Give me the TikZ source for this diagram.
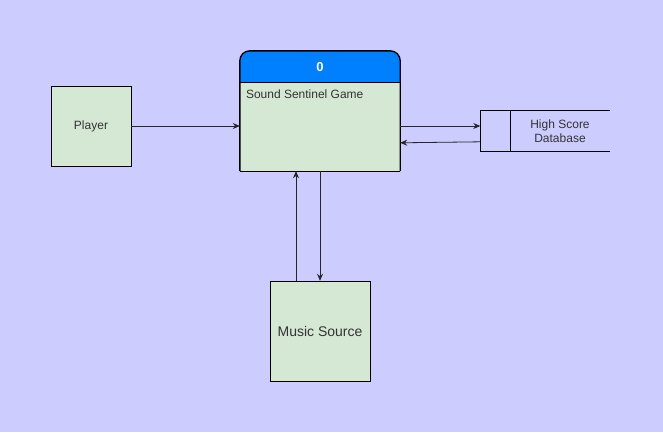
\documentclass[tikz,border=0pt]{standalone}
\usepackage{fontspec}
\setmainfont{Liberation Sans}
\usetikzlibrary{arrows.meta,positioning,calc}
\definecolor{lavender bg}{HTML}{CCCCFF}
\definecolor{entity green}{HTML}{D5E8D4}
\definecolor{header blue}{HTML}{007FFF}
\definecolor{label gray}{HTML}{333333}
\tikzset{
    % Colors
    line color/.style={black!85},
    %
    % Nodes
    entity/.style={draw,fill=entity green,minimum width=80,minimum height=80,inner sep=0pt,text=label gray,font=\fontsize{12}{14}\selectfont},
    process area/.style={minimum width=160,minimum height=120,inner sep=0pt},
    store text/.style={minimum width=99,minimum height=40,inner sep=0pt,align=center,text=label gray,font=\fontsize{12}{14}\selectfont},
    %
    % Arrows
    arrow tip/.tip={Stealth[length=7pt,width=6pt]},
    arr/.style={->,>={arrow tip},line color,line width=0.8pt},
}

\begin{document}
\begin{tikzpicture}[x=1pt,y=-1pt]
    \fill[lavender bg] (0,0) rectangle (663,432);
    \useasboundingbox (0,0) rectangle (663,432);

    \node[entity] (player) at (91,126) {Player};
    \node[entity,minimum width=100,minimum height=100,font=\fontsize{14}{16}\selectfont] (musicsrc) at (320,331) {Music Source};

    % process 0
    \node[process area] (game) at (320,111) {};
    \coordinate (hdrL) at ($(game.north west)+(0,31)$);
    \coordinate (hdrR) at ($(game.north east)+(0,31)$);
    \fill[header blue,rounded corners=10] (game.north west) rectangle ($(hdrR)+(0,12)$);
    \fill[entity green] (hdrL) rectangle (game.south east);
    \draw[line width=0.6pt] (hdrL) -- (hdrR);
    \draw[line width=1.4pt,rounded corners=10] (game.south west) -- (game.north west) -- (game.north east) -- (game.south east);
    \draw[line width=1.4pt] (game.south west) -- (game.south east);
    \node[white,font=\bfseries\fontsize{13}{15}\selectfont] (gameid) at ($(game.north)+(0,16)$) {0};
    \node[anchor=north west,inner sep=0pt,text=label gray,font=\fontsize{12}{14}\selectfont] (gamename) at ($(hdrL)+(6,8)$) {Sound Sentinel Game};

    % data store
    \node[store text] (store) at (560,131) {High Score\\Database};
    \coordinate (storeTL) at ($(store.north west)+(-30,0)$);
    \coordinate (storeBL) at ($(store.south west)+(-30,0)$);
    \draw[line width=0.8pt] (store.north east) -- (storeTL) -- (storeBL) -- (store.south east);
    \draw[line width=0.8pt] (store.north west) -- (store.south west);

    \draw[arr] (player) -- (player -| game.west);
    \draw[arr] (game.east |- player) -- (storeTL |- player);
    \draw[arr] ($(storeTL)+(0,31)$) -- ($(game.north east)+(0,92)$);
    \draw[arr] (game.south) -- (musicsrc.north);
    \draw[arr] ($(musicsrc.north)+(-24,0)$) -- ($(game.south)+(-24,0)$);
\end{tikzpicture}
\end{document}
